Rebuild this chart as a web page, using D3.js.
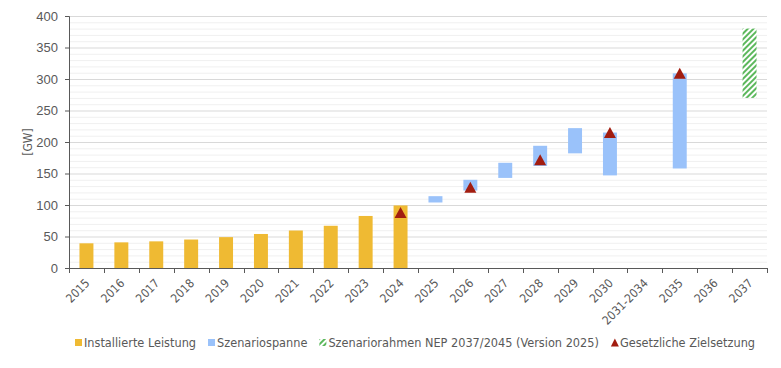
<!DOCTYPE html>
<html>
<head>
<meta charset="utf-8">
<script src="https://cdn.jsdelivr.net/npm/d3@7"></script>
<style>
  body { margin: 0; background: #fff; }
  svg { display: block; font-family: "DejaVu Sans Condensed", "DejaVu Sans", sans-serif; }
</style>
</head>
<body>
<div id="chart"></div>
<script>
// categories on the x axis
const categories = ["2015", "2016", "2017", "2018", "2019", "2020", "2021", "2022", "2023", "2024",
    "2025", "2026", "2027", "2028", "2029", "2030", "2031-2034", "2035", "2036", "2037"];

// installed capacity [GW]
const installedYears = ["2015", "2016", "2017", "2018", "2019", "2020", "2021", "2022", "2023", "2024"];
const installedValues = [39.2, 40.7, 42.3, 45.2, 49.0, 54.0, 59.5, 67.0, 82.6, 99.3];

// scenario span (low / high)
const scenarioYears = ["2025", "2026", "2027", "2028", "2029", "2030", "2035"];
const scenarioLow = [104, 123, 143, 162, 182, 147, 158];
const scenarioHigh = [114, 140, 167, 194, 222, 215, 309];

// Szenariorahmen NEP 2037/2045
const frameworkYears = ["2037"];
const frameworkLow = [270];
const frameworkHigh = [380];

// statutory targets
const targetYears = ["2024", "2026", "2028", "2030", "2035"];
const targetValues = [88, 128, 172, 215, 309];

const yTicks = [0, 50, 100, 150, 200, 250, 300, 350, 400];

const legendItems = [
    { key: "installed", label: "Installierte Leistung" },
    { key: "scenario", label: "Szenariospanne" },
    { key: "framework", label: "Szenariorahmen NEP 2037/2045 (Version 2025)" },
    { key: "target", label: "Gesetzliche Zielsetzung" }
];

const colors = {
    installed: "#efba33",
    scenario: "#9ac2fa",
    framework: "#5cb85c",
    target: "#a21d10",
    axis: "#595959",
    text: "#595959",
    gridMajor: "#d9d9d9",
    gridMinor: "#f0f0f0"
};

const width = 781, height = 368;
const margin = { top: 16, right: 14, bottom: 100, left: 69 };
const innerW = width - margin.left - margin.right;
const innerH = height - margin.top - margin.bottom;

const svg = d3.select("#chart").append("svg")
    .attr("width", width)
    .attr("height", height);

const defs = svg.append("defs");
const hatch = defs.append("pattern")
    .attr("id", "hatch")
    .attr("patternUnits", "userSpaceOnUse")
    .attr("width", 4)
    .attr("height", 4)
    .attr("patternTransform", "rotate(45)");
hatch.append("rect").attr("width", 4).attr("height", 4).attr("fill", "#fff");
hatch.append("rect").attr("width", 2).attr("height", 4).attr("fill", colors.framework);

const x = d3.scaleBand().domain(categories).range([0, innerW]).padding(0);
const y = d3.scaleLinear().domain([0, 400]).range([innerH, 0]);
const barW = x.bandwidth() * 0.4;
const cx = d => x(d) + x.bandwidth() / 2;

const g = svg.append("g").attr("transform", `translate(${margin.left},${margin.top})`);

// gridlines: minor every 10, major every 50
g.append("g").selectAll("line")
    .data(d3.range(10, 401, 10).filter(v => v % 50 !== 0))
    .join("line")
    .attr("x1", 0).attr("x2", innerW)
    .attr("y1", d => y(d) + 0.5).attr("y2", d => y(d) + 0.5)
    .attr("stroke", colors.gridMinor);
g.append("g").selectAll("line")
    .data(yTicks.filter(v => v > 0))
    .join("line")
    .attr("x1", 0).attr("x2", innerW)
    .attr("y1", d => y(d) + 0.5).attr("y2", d => y(d) + 0.5)
    .attr("stroke", colors.gridMajor);

// installed bars
g.append("g").selectAll("rect")
    .data(installedYears.map((d, i) => ({ cat: d, v: installedValues[i] })))
    .join("rect")
    .attr("x", d => cx(d.cat) - barW / 2)
    .attr("width", barW)
    .attr("y", d => y(d.v))
    .attr("height", d => y(0) - y(d.v))
    .attr("fill", colors.installed);

// scenario span
g.append("g").selectAll("rect")
    .data(scenarioYears.map((d, i) => ({ cat: d, lo: scenarioLow[i], hi: scenarioHigh[i] })))
    .join("rect")
    .attr("x", d => cx(d.cat) - barW / 2)
    .attr("width", barW)
    .attr("y", d => y(d.hi))
    .attr("height", d => y(d.lo) - y(d.hi))
    .attr("fill", colors.scenario);

// framework (hatched)
g.append("g").selectAll("rect")
    .data(frameworkYears.map((d, i) => ({ cat: d, lo: frameworkLow[i], hi: frameworkHigh[i] })))
    .join("rect")
    .attr("x", d => cx(d.cat) - barW / 2)
    .attr("width", barW)
    .attr("y", d => y(d.hi))
    .attr("height", d => y(d.lo) - y(d.hi))
    .attr("fill", "url(#hatch)");

// targets
const tri = "M0,-5.5L6,5.5L-6,5.5Z";
g.append("g").selectAll("path")
    .data(targetYears.map((d, i) => ({ cat: d, v: targetValues[i] })))
    .join("path")
    .attr("d", tri)
    .attr("transform", d => `translate(${cx(d.cat)},${y(d.v)})`)
    .attr("fill", colors.target);

// y axis
const yAxis = g.append("g")
    .call(d3.axisLeft(y).tickValues(yTicks).tickSize(4).tickPadding(7));
yAxis.select(".domain").attr("stroke", colors.axis);
yAxis.selectAll(".tick line").attr("stroke", colors.axis);
yAxis.selectAll(".tick text")
    .attr("fill", colors.text)
    .style("font-size", "13px");

// x axis: ticks on band boundaries
const xAxisG = g.append("g").attr("transform", `translate(0,${innerH})`);
xAxisG.append("line")
    .attr("x1", 0).attr("x2", innerW)
    .attr("y1", 0.5).attr("y2", 0.5)
    .attr("stroke", colors.axis);
xAxisG.selectAll("line.tk")
    .data(categories.map(c => x(c)).concat([innerW]))
    .join("line")
    .attr("class", "tk")
    .attr("x1", d => Math.round(d) + 0.5).attr("x2", d => Math.round(d) + 0.5)
    .attr("y1", 0).attr("y2", 5)
    .attr("stroke", colors.axis);
xAxisG.selectAll("text")
    .data(categories)
    .join("text")
    .attr("transform", d => `translate(${cx(d) + 1},${13}) rotate(-45)`)
    .attr("text-anchor", "end")
    .attr("dy", "0.35em")
    .attr("fill", colors.text)
    .style("font-size", "12px")
    .text(d => d);

// y label
svg.append("text")
    .attr("transform", `translate(32,${margin.top + innerH / 2}) rotate(-90)`)
    .attr("text-anchor", "middle")
    .attr("fill", colors.text)
    .style("font-size", "12px")
    .text("[GW]");

// legend
const legend = svg.append("g").attr("transform", "translate(75,343)");
let lx = 0;
legendItems.forEach(item => {
    const li = legend.append("g").attr("transform", `translate(${lx},0)`);
    if (item.key === "target") {
        li.append("path").attr("d", "M4,-4.5L8,3.5L0,3.5Z").attr("fill", colors.target);
    } else {
        li.append("rect")
            .attr("x", 0).attr("y", -4)
            .attr("width", 7).attr("height", 7)
            .attr("fill", item.key === "framework" ? "url(#hatch)" : colors[item.key]);
    }
    const t = li.append("text")
        .attr("x", 9)
        .attr("dy", "0.35em")
        .attr("fill", colors.text)
        .style("font-size", "12.6px")
        .text(item.label);
    lx += 9 + t.node().getComputedTextLength() + 12;
});
</script>
</body>
</html>
